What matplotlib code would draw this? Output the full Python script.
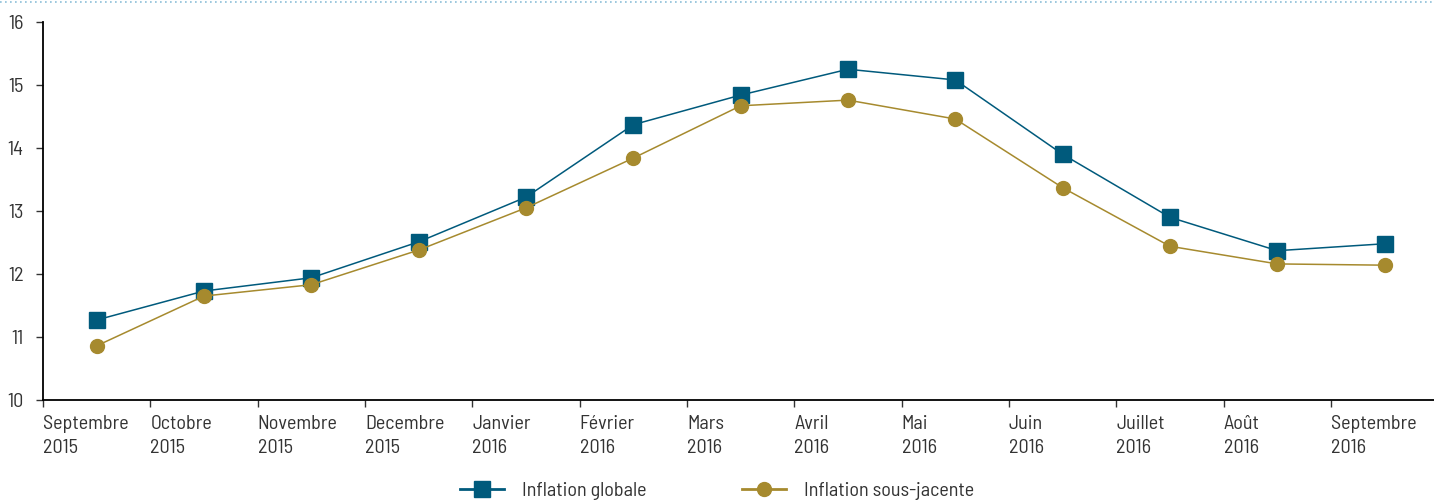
import matplotlib
matplotlib.use("Agg")
import matplotlib.pyplot as plt
from matplotlib.lines import Line2D

months = ["Septembre\n2015", "Octobre\n2015", "Novembre\n2015", "Decembre\n2015",
          "Janvier\n2016", "Février\n2016", "Mars\n2016", "Avril\n2016", "Mai\n2016",
          "Juin\n2016", "Juillet\n2016", "Août\n2016", "Septembre\n2016"]
globale = [11.27, 11.73, 11.94, 12.51, 13.22, 14.37, 14.84, 15.25, 15.08, 13.90, 12.90, 12.37, 12.48]
sous_jacente = [10.86, 11.65, 11.83, 12.38, 13.05, 13.84, 14.67, 14.76, 14.46, 13.37, 12.44, 12.16, 12.14]

plt.rcParams["font.family"] = ["Barlow Semi Condensed", "DejaVu Sans"]
plt.rcParams["text.color"] = "#333333"
plt.rcParams["xtick.color"] = "#333333"
plt.rcParams["ytick.color"] = "#333333"

blue = "#005a7c"
gold = "#a68a2e"
fs = 14.5

fig = plt.figure(figsize=(14.34, 5.01), dpi=100)
ax = fig.add_axes([0.030, 0.2016, 0.973, 0.7545])

x = range(len(months))
ax.plot(x, globale, color=blue, lw=1.1, marker="s", ms=11.5, label="Inflation globale")
ax.plot(x, sous_jacente, color=gold, lw=1.1, marker="o", ms=10, label="Inflation sous-jacente")

ax.set_xlim(-0.5, len(months) - 0.5)
ax.set_ylim(10, 16)
ax.set_yticks(range(10, 17))
ax.set_xticks([i - 0.5 for i in x])
ax.set_xticklabels(months, ha="left", fontsize=fs, linespacing=1.4)
ax.tick_params(axis="y", labelsize=fs, length=5, width=1, direction="out", pad=9)
ax.tick_params(axis="x", length=5, width=1, direction="out", pad=6)
ax.spines["top"].set_visible(False)
ax.spines["right"].set_visible(False)
ax.spines["left"].set_linewidth(1.3)
ax.spines["bottom"].set_linewidth(1.3)

# decorative dotted rule along the top edge
fig.add_artist(Line2D([0, 1], [0.996, 0.996], transform=fig.transFigure,
                      color="#8cbfd8", lw=1.2, ls=(0, (1, 2))))

leg = fig.legend(loc="lower center", bbox_to_anchor=(0.5, -0.035), ncol=2, frameon=False,
                 fontsize=fs, columnspacing=4.7, handlelength=2.2, handletextpad=0.9)
for h in leg.legend_handles:
    h.set_linewidth(2)

fig.savefig("out.png", dpi=100)
